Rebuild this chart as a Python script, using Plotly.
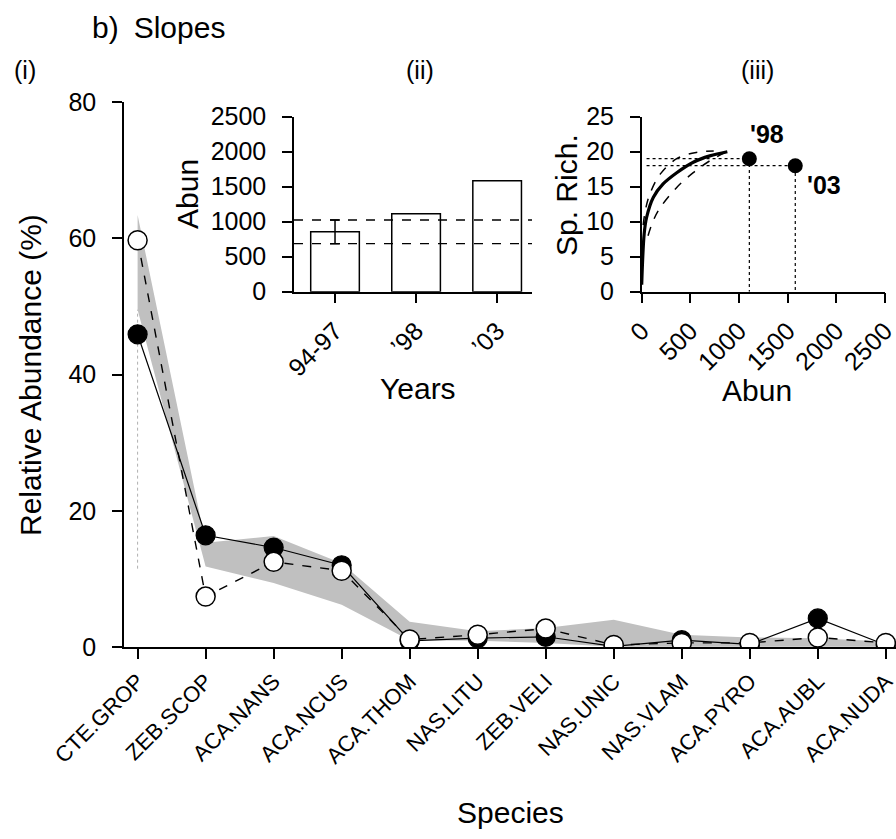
import plotly.graph_objects as go

# ---------------- data ----------------
species = ["CTE.GROP", "ZEB.SCOP", "ACA.NANS", "ACA.NCUS", "ACA.THOM", "NAS.LITU",
           "ZEB.VELI", "NAS.UNIC", "NAS.VLAM", "ACA.PYRO", "ACA.AUBL", "ACA.NUDA"]
abund_filled = [45.9, 16.4, 14.6, 12.0, 0.9, 1.3, 1.5, 0.1, 1.0, 0.4, 4.2, 0.3]
abund_open = [59.7, 7.4, 12.5, 11.2, 1.1, 1.8, 2.7, 0.3, 0.6, 0.6, 1.4, 0.6]
band_upper = [63.4, 15.3, 16.3, 12.3, 3.7, 2.3, 2.8, 4.0, 1.8, 1.4, 1.3, 0.8]
band_lower = [49.5, 11.8, 9.4, 6.2, 1.0, 0.9, 0.6, 0.05, 0.05, 0.05, 0.05, 0.05]
grop_dotted = [11.5, 49.5]

years = ["94-97", "’98", "’03"]
year_abun = [857, 1114, 1586]
ref_lo = 686
ref_hi = 1024

rare_mean_abun = [0, 25, 50, 120, 220, 360, 530, 700, 880]
rare_mean_rich = [1.0, 8.2, 10.6, 13.5, 15.4, 17.0, 18.5, 19.4, 20.0]
rare_up_abun = [15, 40, 85, 190, 360, 560, 740]
rare_up_rich = [9.5, 11.8, 14.0, 16.8, 19.0, 19.9, 20.1]
rare_lo_abun = [65, 120, 190, 360, 530, 700, 860]
rare_lo_rich = [8.0, 10.2, 12.0, 14.9, 17.0, 18.7, 19.9]
samp_labels = ["'98", "'03"]
samp_abun = [1106, 1578]
samp_rich = [19, 18]
dotted_start = 50
abun_ticks = [0, 500, 1000, 1500, 2000, 2500]

W, H = 896, 839
FONT = "Liberation Sans, Arial, sans-serif"


def px(x):
    return x / W


def py(y):
    return 1 - y / H


fig = go.Figure()

# ---------------- main panel (i) ----------------
fig.add_trace(go.Scatter(x=species, y=band_lower, mode="lines", line=dict(width=0),
                         hoverinfo="skip", showlegend=False))
fig.add_trace(go.Scatter(x=species, y=band_upper, mode="lines", line=dict(width=0),
                         fill="tonexty", fillcolor="#c0c0c0", hoverinfo="skip", showlegend=False))
fig.add_trace(go.Scatter(x=[species[0], species[0]], y=grop_dotted, mode="lines",
                         line=dict(color="#b0b0b0", width=1, dash="dot"), showlegend=False))
fig.add_trace(go.Scatter(x=species, y=abund_filled, mode="lines+markers",
                         line=dict(color="black", width=1.2),
                         marker=dict(size=19, color="black", line=dict(color="black", width=1.2)),
                         showlegend=False))
fig.add_trace(go.Scatter(x=species, y=abund_open, mode="lines+markers",
                         line=dict(color="black", width=1.4, dash="dash"),
                         marker=dict(size=19, color="white", line=dict(color="black", width=1.5)),
                         showlegend=False))

# ---------------- inset (ii) ----------------
fig.add_trace(go.Bar(x=years, y=year_abun, width=0.6, marker=dict(color="white", line=dict(color="black", width=1.5)),
                     xaxis="x2", yaxis="y2", showlegend=False))
fig.add_trace(go.Scatter(x=[years[0]], y=[year_abun[0]], mode="markers",
                         marker=dict(size=1, color="rgba(0,0,0,0)"),
                         error_y=dict(type="data", symmetric=False,
                                      array=[ref_hi - year_abun[0]], arrayminus=[year_abun[0] - ref_lo],
                                      color="black", thickness=1.5, width=5),
                         xaxis="x2", yaxis="y2", showlegend=False))

# ---------------- inset (iii) ----------------
for sx, sy in zip(samp_abun, samp_rich):
    fig.add_trace(go.Scatter(x=[dotted_start, sx, sx], y=[sy, sy, 0], mode="lines",
                             line=dict(color="black", width=1.2, dash="dot"),
                             xaxis="x3", yaxis="y3", showlegend=False))
fig.add_trace(go.Scatter(x=rare_up_abun, y=rare_up_rich, mode="lines", line=dict(color="black", width=1.5, dash="dash", shape="spline"),
                         xaxis="x3", yaxis="y3", showlegend=False))
fig.add_trace(go.Scatter(x=rare_lo_abun, y=rare_lo_rich, mode="lines", line=dict(color="black", width=1.5, dash="dash", shape="spline"),
                         xaxis="x3", yaxis="y3", showlegend=False))
fig.add_trace(go.Scatter(x=rare_mean_abun, y=rare_mean_rich, mode="lines", line=dict(color="black", width=3.2, shape="spline"),
                         xaxis="x3", yaxis="y3", showlegend=False))
fig.add_trace(go.Scatter(x=samp_abun, y=samp_rich, mode="markers", marker=dict(size=15, color="black"),
                         xaxis="x3", yaxis="y3", showlegend=False))

TICK = 25
axis_common = dict(showline=True, linecolor="black", linewidth=1.5, ticks="outside",
                   ticklen=10, tickwidth=1.5, tickcolor="black", showgrid=False, zeroline=False,
                   automargin=False, ticklabeloverflow="allow",
                   tickfont=dict(family=FONT, size=TICK, color="black"))
yaxis_common = dict(axis_common, ticklabelstandoff=11)
xaxis_common = dict(axis_common, ticklabelstandoff=3)

shapes = [
    dict(type="line", xref="x2 domain", yref="y2", x0=0, x1=1, y0=ref_lo, y1=ref_lo,
         line=dict(color="black", width=1.3, dash="dash")),
    dict(type="line", xref="x2 domain", yref="y2", x0=0, x1=1, y0=ref_hi, y1=ref_hi,
         line=dict(color="black", width=1.3, dash="dash")),
]


def ann(text, x, y, size=25, angle=0, bold=False, xanchor="center", yanchor="middle", xref="paper", yref="paper"):
    t = f"<b>{text}</b>" if bold else text
    return dict(text=t, x=x, y=y, xref=xref, yref=yref, showarrow=False, textangle=angle,
                xanchor=xanchor, yanchor=yanchor, font=dict(family=FONT, size=size, color="black"))


TITLE = 30
annotations = [
    ann("b)\u2002Slopes", px(90), py(28), size=30, xanchor="left"),
    ann("(i)", px(12), py(70), size=25, xanchor="left"),
    ann("(ii)", px(420), py(70), size=25),
    ann("(iii)", px(757), py(70), size=25),
    ann("Relative Abundance (%)", px(30), py(375), size=TITLE, angle=-90),
    ann("Species", px(510), py(812), size=TITLE),
    ann("Years", px(418), py(388), size=TITLE),
    ann("Abun", px(187), py(194), size=TITLE, angle=-90),
    ann("Abun", px(757), py(390), size=TITLE),
    ann("Sp. Rich.", px(566), py(195), size=TITLE, angle=-90),
    ann(samp_labels[0], samp_abun[0] - 15, samp_rich[0] + 1.3, size=25, bold=True, xanchor="left",
        yanchor="bottom", xref="x3", yref="y3"),
    ann(samp_labels[1], samp_abun[1] + 100, samp_rich[1] - 0.4, size=25, bold=True, xanchor="left",
        yanchor="top", xref="x3", yref="y3"),
]

fig.update_layout(
    width=W, height=H, margin=dict(l=0, r=0, t=0, b=0, autoexpand=False),
    paper_bgcolor="white", plot_bgcolor="rgba(0,0,0,0)",
    font=dict(family=FONT, color="black"),
    showlegend=False,
    xaxis=dict(xaxis_common, domain=[px(124), 1.0], type="category", range=[-0.2, 11.15],
               tickangle=-45, ticklabelstandoff=1,
               tickfont=dict(family=FONT, size=22, color="black"), anchor="y"),
    yaxis=dict(yaxis_common, domain=[py(647), py(102)], range=[0, 80], tickvals=[0, 20, 40, 60, 80], anchor="x"),
    xaxis2=dict(xaxis_common, domain=[px(294), px(532)], type="category", range=[-0.506, 2.43],
                tickangle=-45, anchor="y2"),
    yaxis2=dict(yaxis_common, domain=[py(291.7), py(116.7)], range=[0, 2500], dtick=500, anchor="x2"),
    xaxis3=dict(xaxis_common, domain=[px(641.7), px(885)], range=[0, 2500], tickvals=abun_ticks,
                tickangle=-45, anchor="y3"),
    yaxis3=dict(yaxis_common, domain=[py(291.7), py(116.7)], range=[0, 25], dtick=5, anchor="x3"),
    shapes=shapes,
    annotations=annotations,
)

fig.write_html("out.html")
